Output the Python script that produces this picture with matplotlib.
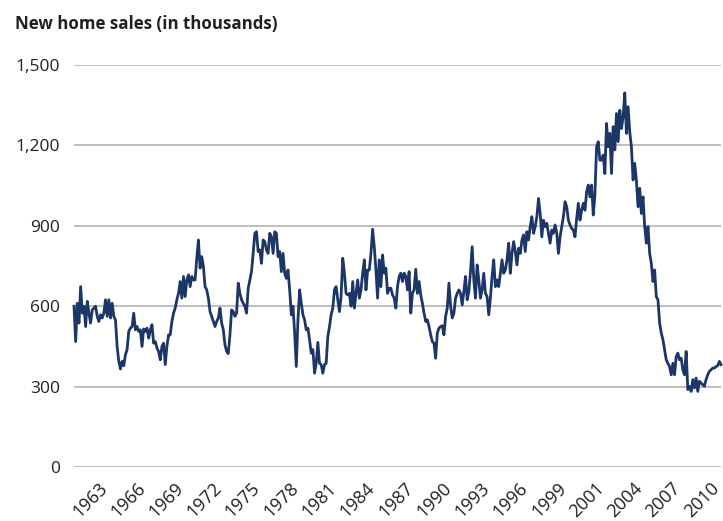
import numpy as np
import matplotlib
matplotlib.use('Agg')
import matplotlib.pyplot as plt

# New home sales, thousands (left to right)
sales = [
    600, 468, 611, 537, 673, 574, 600, 524, 618, 574, 537, 586, 593, 600, 562, 543,
    568, 556, 574, 624, 562, 624, 556, 611, 562, 549, 450, 394, 366, 394, 378, 419,
    438, 506, 518, 524, 574, 512, 524, 506, 512, 450, 515, 506, 518, 481, 512, 531,
    462, 468, 444, 431, 400, 450, 462, 382, 450, 493, 493, 543, 574, 593, 624, 648,
    692, 630, 711, 636, 698, 717, 673, 711, 698, 698, 779, 847, 742, 785, 748, 673,
    661, 630, 580, 562, 543, 524, 543, 556, 593, 537, 512, 456, 431, 423, 493, 586,
    580, 562, 574, 686, 648, 624, 611, 600, 574, 667, 698, 729, 797, 872, 878, 804,
    810, 760, 847, 841, 810, 797, 872, 859, 797, 878, 872, 785, 804, 729, 797, 723,
    704, 735, 661, 568, 600, 500, 375, 549, 661, 611, 568, 549, 512, 518, 475, 425,
    438, 350, 387, 465, 387, 382, 350, 382, 387, 487, 524, 568, 593, 661, 673, 624,
    580, 636, 779, 723, 648, 642, 648, 600, 692, 593, 648, 698, 630, 661, 723, 773,
    661, 735, 735, 797, 887, 822, 735, 630, 773, 673, 791, 723, 742, 648, 667, 667,
    642, 630, 593, 673, 711, 723, 692, 723, 711, 661, 729, 574, 648, 661, 738, 648,
    692, 642, 611, 574, 543, 549, 524, 493, 468, 462, 406, 500, 518, 524, 527, 493,
    562, 593, 686, 600, 556, 574, 630, 648, 661, 648, 605, 655, 711, 624, 655, 729,
    822, 698, 630, 754, 698, 630, 661, 723, 648, 636, 568, 630, 711, 773, 673, 698,
    673, 723, 773, 723, 735, 773, 835, 723, 797, 841, 804, 754, 816, 797, 847, 866,
    804, 878, 847, 897, 934, 872, 897, 934, 1002, 946, 859, 921, 897, 909, 872, 835,
    884, 872, 903, 872, 797, 859, 897, 934, 990, 971, 921, 903, 890, 884, 859, 927,
    984, 921, 958, 984, 958, 1027, 1052, 1008, 1052, 940, 1015, 1195, 1214, 1145, 1145, 1164,
    1095, 1282, 1195, 1245, 1095, 1270, 1183, 1319, 1214, 1331, 1263, 1307, 1396, 1245, 1344, 1250,
    1195, 1071, 1133, 1071, 971, 1040, 946, 1008, 897, 835, 897, 797, 760, 692, 735, 636,
    624, 537, 500, 475, 438, 400, 387, 375, 344, 387, 344, 412, 425, 400, 406, 362,
    344, 431, 289, 301, 282, 326, 295, 332, 282, 320, 313, 307, 301, 326, 344, 357,
    363, 369, 369, 375, 378, 394, 382,
]

year_labels = ['1963', '1966', '1969', '1972', '1975', '1978', '1981', '1984', '1987',
               '1990', '1993', '1996', '1999', '2001', '2004', '2007', '2010']

y_ticks = [0, 300, 600, 900, 1200, 1500]

plt.rcParams['font.family'] = ['Open Sans', 'DejaVu Sans']

fig = plt.figure(figsize=(7.23, 5.21), dpi=100)
ax = fig.add_axes([74 / 723, 1 - 467 / 521, (721 - 74) / 723, (467 - 65) / 521])

x = np.arange(len(sales))
ax.plot(x, sales, color='#1c3667', linewidth=2.0, clip_on=False)

ax.set_ylim(0, 1500)
ax.set_xlim(0, len(sales) - 1)
ax.set_yticks(y_ticks)
ax.set_yticklabels(['{:,}'.format(v) for v in y_ticks], fontsize=12.5, color='#231f20')
ax.grid(axis='y', color='#b4b4b4', linewidth=1.2)
ax.set_axisbelow(True)

# category labels, evenly spaced across the axis
span = len(sales) - 1
tick_pos = np.linspace((98 - 74) / 647 * span, (710 - 74) / 647 * span, len(year_labels))
ax.set_xticks(tick_pos)
ax.set_xticklabels(year_labels, rotation=45, ha='right',
                   va='top', rotation_mode='anchor', fontsize=13, color='#231f20')

ax.tick_params(axis='both', length=0)
ax.tick_params(axis='y', pad=10)
ax.tick_params(axis='x', pad=9)
for s in ax.spines.values():
    s.set_visible(False)

fig.text(15 / 723, 1 - 29 / 521, 'New home sales (in thousands)', fontsize=12.2,
         fontweight='bold', color='#231f20', va='baseline')

fig.savefig('out.png', dpi=100)
